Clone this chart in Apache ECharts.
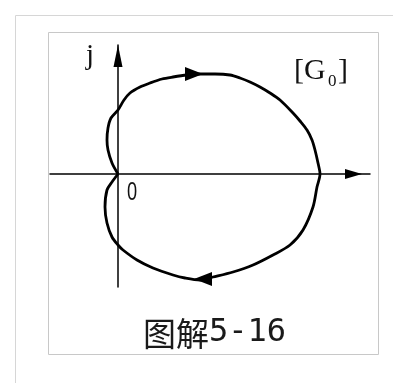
<!DOCTYPE html>
<html>
<head>
<meta charset="utf-8">
<script src="https://cdn.jsdelivr.net/npm/echarts@6/dist/echarts.min.js"></script>
<style>
  html, body { margin: 0; padding: 0; background: #ffffff; }
  #chart { width: 393px; height: 383px; }
</style>
</head>
<body>
<div id="chart"></div>
<script>
// Nyquist locus of G0(jω): real and imaginary parts, traced as one closed contour
const realPart = [
  0, -0.30, -0.50, -0.55, -0.50, -0.35, 0,
  0.30, 0.60, 1.10, 1.60, 2.20, 2.75, 3.45, 4.10, 4.85, 5.60, 6.10, 6.60, 7.10, 7.60, 8.10,
  8.75, 9.10, 9.45, 9.70, 9.85, 10.00, 10.10,
  9.95, 9.75, 9.25, 8.60, 7.75, 6.75, 5.75, 4.75, 4.10, 3.35, 2.75, 1.75, 0.95, 0.25, 0,
  -0.30, -0.55, -0.65, -0.55, -0.30, 0
];
const imagPart = [
  0, 0.55, 1.20, 1.70, 2.30, 2.80, 3.20,
  3.70, 4.05, 4.35, 4.55, 4.75, 4.85, 4.95, 5.00, 5.00, 4.95, 4.80, 4.60, 4.35, 4.05, 3.70,
  3.05, 2.65, 2.20, 1.70, 1.20, 0.55, 0,
  -0.65, -1.65, -2.80, -3.55, -4.05, -4.55, -4.90, -5.15, -5.30, -5.20, -5.05, -4.70, -4.30, -3.80, -3.55,
  -3.15, -2.45, -1.65, -0.80, -0.40, 0
];

// direction markers on the locus (upper branch runs right, lower branch runs left)
const arrowReal = [3.80, 4.25];
const arrowImag = [5.00, -5.25];

// axis extent
const reRange = [-3.4, 12.6];
const imRange = [-5.65, 6.45];

const chart = echarts.init(document.getElementById('chart'), null, { renderer: 'canvas' });

const locus = realPart.map((re, i) => [re, imagPart[i]]);
const arrows = arrowReal.map((re, i) => ({
  value: [re, arrowImag[i]],
  symbolRotate: i === 0 ? -90 : 90
}));

const frameColor = '#c8c8c8';

chart.setOption({
  animation: false,
  backgroundColor: '#ffffff',
  grid: { left: 50, right: 23, top: 45, bottom: 96 },
  xAxis: {
    type: 'value',
    min: reRange[0],
    max: reRange[1],
    axisLine: {
      show: true,
      onZero: true,
      symbol: ['none', 'triangle'],
      symbolSize: [10, 17],
      symbolOffset: [0, -16.5],
      lineStyle: { color: '#000', width: 1.5 }
    },
    axisTick: { show: false },
    axisLabel: { show: false },
    splitLine: { show: false }
  },
  yAxis: {
    type: 'value',
    min: imRange[0],
    max: imRange[1],
    axisLine: {
      show: true,
      onZero: true,
      symbol: ['none', 'triangle'],
      symbolSize: [9, 22],
      symbolOffset: [0, -11],
      lineStyle: { color: '#000', width: 1.5 }
    },
    axisTick: { show: false },
    axisLabel: { show: false },
    splitLine: { show: false }
  },
  series: [
    {
      type: 'line',
      data: locus,
      smooth: 0.3,
      showSymbol: false,
      lineStyle: { color: '#000', width: 2.8 },
      z: 3
    },
    {
      type: 'scatter',
      data: arrows,
      symbol: 'triangle',
      symbolSize: [14, 18],
      itemStyle: { color: '#000', opacity: 1 },
      z: 4
    }
  ],
  graphic: [
    // page rules
    { type: 'line', shape: { x1: 15.5, y1: 15.5, x2: 393, y2: 15.5 }, style: { stroke: '#d6d6d6', lineWidth: 1 } },
    { type: 'line', shape: { x1: 15.5, y1: 15.5, x2: 15.5, y2: 383 }, style: { stroke: '#d6d6d6', lineWidth: 1 } },
    // figure frame
    { type: 'rect', shape: { x: 48.5, y: 32.5, width: 330, height: 322 }, style: { fill: 'none', stroke: frameColor, lineWidth: 1 } },
    // axis and plot labels
    { type: 'text', x: 86, y: 56, style: { text: 'j', font: '29px "Liberation Serif", serif', fill: '#111', verticalAlign: 'middle' } },
    { type: 'text', x: 294, y: 71, style: { text: '[G', font: '30px "Liberation Serif", serif', fill: '#111', verticalAlign: 'middle' } },
    { type: 'text', x: 328, y: 81.5, style: { text: '0', font: '17px "Liberation Serif", serif', fill: '#111', verticalAlign: 'middle' } },
    { type: 'text', x: 338, y: 71, style: { text: ']', font: '30px "Liberation Serif", serif', fill: '#111', verticalAlign: 'middle' } },
    { type: 'text', x: 127, y: 192.5, scaleX: 0.7, style: { text: '0', font: '26px "Liberation Sans", sans-serif', fill: '#111', verticalAlign: 'middle' } },
    // caption
    {
      type: 'text', x: 143, y: 333,
      style: {
        text: '{a|图解}{b|5-16}',
        verticalAlign: 'middle',
        rich: {
          a: { font: '33px "Noto Sans CJK SC", sans-serif', fill: '#1a1a1a' },
          b: { font: '32px "DejaVu Sans Mono", monospace', fill: '#1a1a1a' }
        }
      }
    }
  ]
});
</script>
</body>
</html>
